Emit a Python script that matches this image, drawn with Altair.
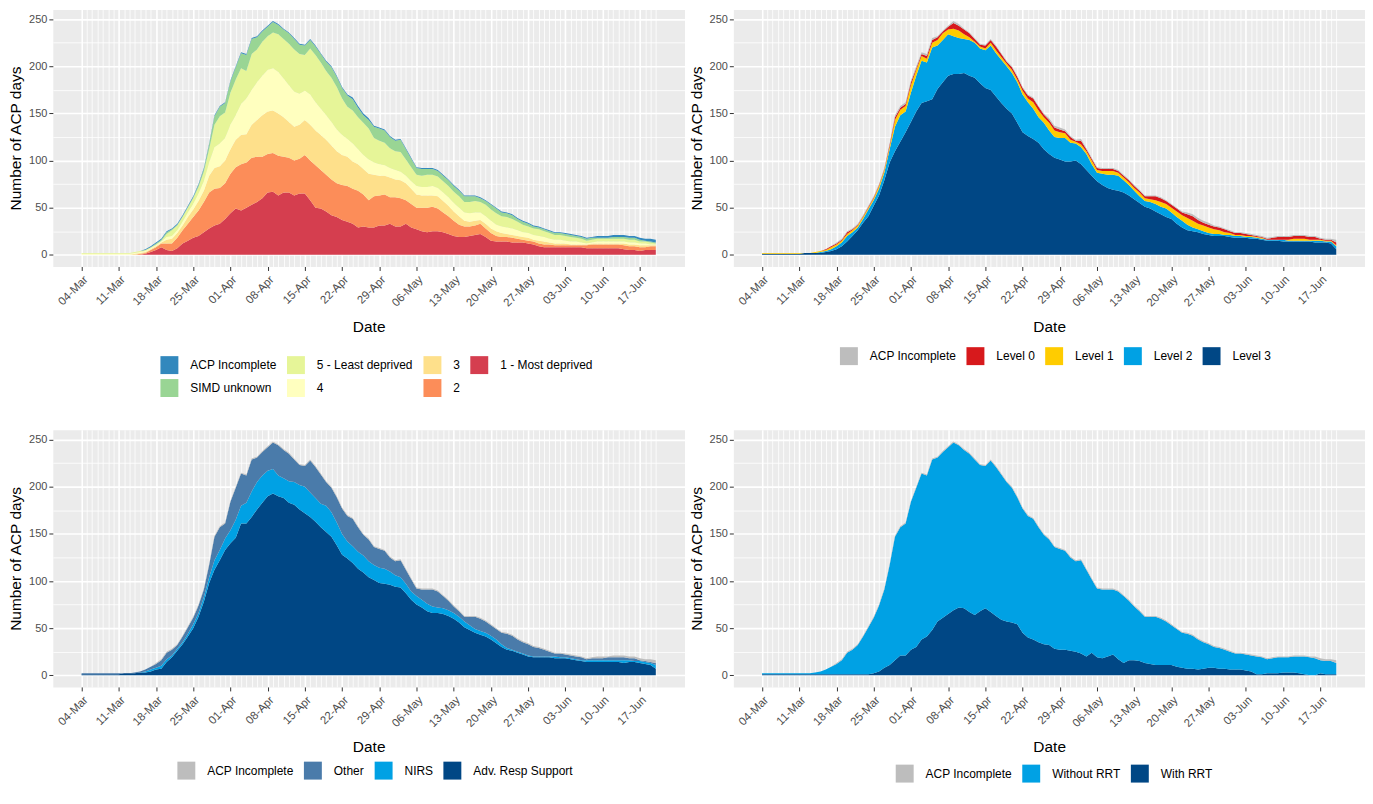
import altair as alt
import pandas as pd
from datetime import datetime, timezone, timedelta

# ---------------- data (daily, 04-Mar .. 20-Jun) ----------------
first_day = datetime(2020, 3, 4, tzinfo=timezone.utc)
n_days = 109
dates = [(first_day + timedelta(days=i)).strftime("%Y-%m-%d") for i in range(n_days)]

# total ACP days (top of every stack)
total = [2,2,2,2,2,2,2,2,2,2, 3,4,6,9,13,17,25,28,33,42,
         52,62,75,92,118,148,158,162,185,200, 215,213,230,232,238,243,248,245,240,236,
         230,224,223,229,222,214,206,200,190,178, 170,167,158,150,145,137,135,133,126,122,
         123,113,103,93,92,92,92,90,85,80, 74,69,63,63,63,61,58,54,50,46,
         45,43,39,36,34,31,30,28,26,24, 24,23,22,21,20,18,19,20,20,20,
         21,21,21,20,20,18,17,17,16]

# ---- Panel 1: SIMD quintile (upper edge of each band, bottom to top) ----
simd_1_top = [0]*12 + [1,3,5,8,5,4,7,12,15,18,20,24,28,31,33,38,44,49,47,50,53,56,60,66,67,63,66,66,63,65,65,58,50,49,46,42,40,37,35,33,29,30,29,29,31,31,33,30,30,33,29,27,25,24,25,25,24,22,20,19,19,20,21,22,19,15,14,14,14,13,13,13,12,11,9,8] + [8]*7 + [7]*7 + [6,5,5,4,5,5,5]
simd_2_top = [0]*11 + [1,2,5,8,12,12,12,18,26,33,40,47,56,66,70,71,76,86,93,96,98,103,104,104,107,108,105,104,103,100,102,106,100,95,90,85,80,76,74,73,70,68,64,58,62,63,64,61,61,60,58,54,50,50,50,51,49,45,41,36,32,30,30,31,33,28,23,20,19,19,18,17,16,15,14,12,11,11,10] + [10]*6 + [11]*6 + [10,9,9,8,8,9,9]
simd_3_top = [0]*10 + [1,2,3,6,9,13,16,17,23,31,40,48,57,68,84,92,94,100,112,122,127,128,138,143,148,152,153,150,146,141,136,138,143,138,132,127,122,116,110,106,104,99,96,91,86,85,84,84,82,80,79,76,70,64,63,63,63,62,57,52,46,41,36,35,36,37,33,28,25,23,22,21,20,19,18,16,15,14,13,12,12,12,11,11,11,11] + [12]*7 + [11,11,10,10,10,10]
simd_4_top = [1]*10 + [2,3,4,7,10,14,19,20,26,35,45,54,65,78,98,114,118,124,138,148,160,166,175,183,190,196,198,194,187,180,173,171,174,170,162,155,148,141,133,127,123,118,112,106,101,98,96,95,92,90,88,84,78,73,72,72,73,71,66,61,55,50,45,44,45,45,41,36,32,30,29,28,26,24,23,21,20,19,17,16,16,15,14,14,13,12,13] + [14]*6 + [13,13,12,12,11,11]
simd_5_top = [2]*10 + [3,4,5,8,11,15,22,26,31,40,50,60,72,88,112,138,147,151,172,186,198,195,213,218,226,232,236,234,229,224,218,213,212,219,212,204,195,188,178,166,157,153,146,140,134,124,121,119,113,110,109,101,93,85,84,85,85,83,78,73,67,62,56,56,57,56,53,48,44,41,40,38,35,32,30,28,27,25,23,21,21,20,19,18,17,15,16] + [17]*6 + [16,16,14,14,13,12]
simd_unknown_top = [2]*10 + [3,4,5,8,12,16,24,27,32,41,51,61,74,91,117,147,157,161,184,199,214,212,229,231,237,242,247,244,239,235,229,223,222,228,221,213,205,199,189,177,169,165,156,148,143,136,134,132,125,121,122,112,102,92,91,91,91,89,84,79,73,68,62,62,62,60,57,53,49,45,44,42,38,35,33,30,29,27,25,23,23,22,21,20,19,17,18] + [18]*3 + [19]*3 + [18,18,16,15,14,13]

# ---- Panel 2: level of care ----
level3_top = [1]*8 + [2,2,2,2,3,4,6,9,14,20,26,34,41,52,63,79,98,110,120,130,141,152,161,163,165,176,183,190,192,192,193,190,188,182,177,175,168,161,155,150,140,130,126,123,119,112,107,103,101,99,99,100,96,90,84,78,74,71,69,68,66,63,59,55,51,49,46,43,40,38,33,29,26,25,24,22,21,20,20,20,19,18,18,18,17,17,16,15,15,15,14,14,14,14,14,14,13,13,13,12,6]
level2_top = [1]*8 + [2,2,2,3,4,6,9,13,20,24,29,38,48,58,70,87,112,136,148,152,172,190,206,204,220,222,228,234,232,230,229,228,225,219,217,222,214,207,200,193,183,170,162,155,146,140,132,125,124,124,119,118,114,107,96,87,86,85,85,84,79,74,68,62,57,56,54,51,49,45,40,36,32,29,27,25,23,22,22,21,21,20,20,19,19,18,17,16,16,16,16,15,15,15,15,15,15,15,14,14,9]
level1_top = [2]*8 + [2,2,3,4,5,8,11,15,22,26,31,40,50,60,73,90,115,143,154,158,180,196,211,208,225,228,235,239,240,238,234,231,226,221,219,225,217,210,203,196,186,174,166,162,153,146,140,132,130,129,122,120,117,110,100,90,89,89,89,87,82,77,71,66,60,59,58,56,54,50,46,42,39,36,33,31,29,27,26,24,23,21,21,20,20,19,18,16,16,16,16,16,17,17,17,16,16,16,15,15,10]
level0_top = [2]*8 + [2,2,3,4,6,9,12,16,24,27,32,41,51,61,74,91,117,146,156,160,183,198,213,211,228,231,237,242,246,243,239,235,229,223,222,228,221,213,205,199,189,177,169,166,157,149,143,135,133,131,125,121,121,112,102,92,91,91,91,89,84,79,73,68,62,62,62,60,57,53,49,45,43,41,37,34,32,30,29,27,25,23,23,22,21,20,19,17,18,19,19,19,20,20,20,19,19,17,16,16,13]

# ---- Panel 3: respiratory support ----
adv_resp_top = [1]*8 + [2,2,2,3,3,4,6,7,14,19,26,33,41,50,62,78,98,112,122,133,140,146,161,161,168,176,183,190,193,190,188,183,181,176,172,168,163,157,152,147,138,128,124,119,113,109,104,101,98,97,96,94,93,87,80,75,72,68,66,66,65,63,60,56,51,48,45,43,41,38,34,30,27,26,24,22,20,19,19,19,19,18,18,18,17,16,15,14,14,14,14,14,14,14,13,14,14,13,12,11,7]
nirs_top = [1]*8 + [2,2,2,3,4,6,8,10,17,21,28,35,44,54,66,83,104,122,133,145,154,165,180,183,195,205,212,217,219,212,209,206,205,202,200,194,188,182,180,173,162,150,142,137,131,127,121,117,114,113,110,106,104,97,89,84,80,76,73,72,71,69,66,62,57,53,49,47,45,42,38,33,29,27,25,23,21,20,20,20,20,20,19,19,18,17,16,16,16,16,16,16,16,16,16,16,15,15,14,13,11]
other_top = [2]*8 + [2,2,3,4,6,9,12,16,24,27,32,41,51,61,74,91,117,147,157,161,184,199,214,212,229,231,237,242,247,244,239,235,229,223,222,228,221,213,205,199,189,177,169,166,157,149,144,136,134,132,125,121,122,112,102,92,91,91,91,89,84,79,73,68,62,62,62,60,57,53,49,45,44,42,38,35,33,30,29,27,25,23,23,22,21,20,19,17,18,18,18,19,19,19,19,18,18,16,15,14,13]

# ---- Panel 4: renal replacement therapy ----
with_rrt_top = [1]*21 + [2,4,8,11,16,21,21,27,30,38,41,48,57,61,65,69,72,71,67,64,68,71,67,63,59,57,56,54,45,40,38,35,33,32,28,27,27,26,25,23,20,24,19,18,20,22,17,13,16,16,15,13,12,11,11,11,11,9,8,7,7,6,7,8,8,7,7,6,6,6,5,4,1,1,2,2,2,3,3,3,2,1,0,0,2,1,1,1]
without_rrt_top = [2]*10 + [3,4,6,9,12,16,24,27,32,41,51,61,74,91,117,147,157,161,184,199,214,212,229,231,237,242,247,244,239,235,229,223,222,228,221,213,205,199,189,177,169,166,157,149,144,136,134,132,125,121,122,112,102,92,91,91,91,89,84,79,73,68,62,62,62,60,57,53,49,45,44,42,38,35,33,30,29,27,25,23,23,22,21,20,19,17,18,19,19,19,20,20,20,19,18,16,15,15,13]

# week tick labels
week_labels = ["04-Mar", "11-Mar", "18-Mar", "25-Mar", "01-Apr", "08-Apr", "15-Apr", "22-Apr",
               "29-Apr", "06-May", "13-May", "20-May", "27-May", "03-Jun", "10-Jun", "17-Jun"]

# ---------------- helpers ----------------
DAY_MS = 86400000
T0 = int(first_day.timestamp() * 1000)
day_ms = [int(datetime.strptime(d, "%Y-%m-%d").replace(tzinfo=timezone.utc).timestamp() * 1000) for d in dates]

W, H = 634, 258
x_domain = [T0 - int(5.4 * DAY_MS), T0 + int(113.4 * DAY_MS)]
y_domain = [-12.4, 260.4]

week_test = f"(round((datum.value - {T0}) / {DAY_MS}) % 7) === 0"
x_axis = alt.Axis(
    values=day_ms,
    labelExpr=f"({week_test}) ? utcFormat(datum.value, '%d-%b') : ''",
    labelAngle=-45, labelAlign="right", labelBaseline="top", labelOverlap=False,
    labelPadding=3, labelBound=False, labelFlush=False, labelFontSize=11.5,
    gridWidth={"condition": {"test": week_test, "value": 1.6}, "value": 0.8},
    tickColor={"condition": {"test": week_test, "value": "#333333"}, "value": "transparent"},
    title="Date", titlePadding=11,
)
y_axis = alt.Axis(
    values=[0, 25, 50, 75, 100, 125, 150, 175, 200, 225, 250],
    labelExpr="datum.value % 50 === 0 ? datum.label : ''",
    gridWidth={"condition": {"test": "datum.value % 50 === 0", "value": 1.6}, "value": 0.8},
    tickColor={"condition": {"test": "datum.value % 50 === 0", "value": "#333333"}, "value": "transparent"},
    title="Number of ACP days", titlePadding=5, labelPadding=2,
)


def panel(names, tops, colors, legend_order, cols, lx, ly):
    rows = []
    lower = [0] * n_days
    for name, top in zip(names, tops):
        for i in range(n_days):
            rows.append({"date": day_ms[i], "series": name, "lower": lower[i], "upper": top[i]})
        lower = top
    df = pd.DataFrame(rows)
    cmap = dict(zip(names, colors))
    return alt.Chart(df).mark_area(interpolate="linear").encode(
        x=alt.X("date:T", scale=alt.Scale(type="utc", domain=x_domain, nice=False), axis=x_axis),
        y=alt.Y("lower:Q", scale=alt.Scale(domain=y_domain, nice=False, zero=False), axis=y_axis),
        y2="upper:Q",
        color=alt.Color("series:N",
                        scale=alt.Scale(domain=legend_order, range=[cmap[s] for s in legend_order]),
                        legend=alt.Legend(title=None, orient="none", legendX=lx, legendY=ly,
                                          columns=cols)),
    ).properties(width=W, height=H)


p1 = panel(
    ["1 - Most deprived", "2", "3", "4", "5 - Least deprived", "SIMD unknown", "ACP Incomplete"],
    [simd_1_top, simd_2_top, simd_3_top, simd_4_top, simd_5_top, simd_unknown_top, total],
    ["#D53E4F", "#FC8D59", "#FEE08B", "#FFFFBF", "#E6F598", "#99D594", "#3288BD"],
    ["ACP Incomplete", "SIMD unknown", "5 - Least deprived", "4", "3", "2", "1 - Most deprived"],
    4, 108, 348)
p2 = panel(
    ["Level 3", "Level 2", "Level 1", "Level 0", "ACP Incomplete"],
    [level3_top, level2_top, level1_top, level0_top, total],
    ["#004785", "#00A1E4", "#FFCC00", "#D7191C", "#BDBDBD"],
    ["ACP Incomplete", "Level 0", "Level 1", "Level 2", "Level 3"],
    5, 107, 339)
p3 = panel(
    ["Adv. Resp Support", "NIRS", "Other", "ACP Incomplete"],
    [adv_resp_top, nirs_top, other_top, total],
    ["#004785", "#00A1E4", "#4A7BAA", "#BDBDBD"],
    ["ACP Incomplete", "Other", "NIRS", "Adv. Resp Support"],
    4, 125, 333)
p4 = panel(
    ["With RRT", "Without RRT", "ACP Incomplete"],
    [with_rrt_top, without_rrt_top, total],
    ["#004785", "#00A1E4", "#BDBDBD"],
    ["ACP Incomplete", "Without RRT", "With RRT"],
    3, 163, 336)

top_row = alt.hconcat(p1, p2, spacing=4).resolve_scale(color="independent")
bottom_row = alt.hconcat(p3, p4, spacing=4).resolve_scale(color="independent")
chart = alt.vconcat(top_row, bottom_row, spacing=33).resolve_scale(color="independent").properties(
    padding=0
).configure(
    font="Liberation Sans", background="white"
).configure_view(
    fill="#EBEBEB", strokeOpacity=0
).configure_axis(
    domain=False, gridColor="white", labelColor="#4D4D4D", labelFontSize=11,
    titleFontSize=15.5, titleFontWeight="normal", titleColor="black",
    tickSize=4, tickWidth=1,
).configure_legend(
    symbolType="square", symbolSize=324, symbolStrokeWidth=0, symbolOpacity=1,
    labelFontSize=12, labelColor="black", labelOffset=12, columnPadding=10, rowPadding=5,
    labelLimit=300,
)

chart.save("out.html", embed_options={"renderer": "svg", "actions": False})
